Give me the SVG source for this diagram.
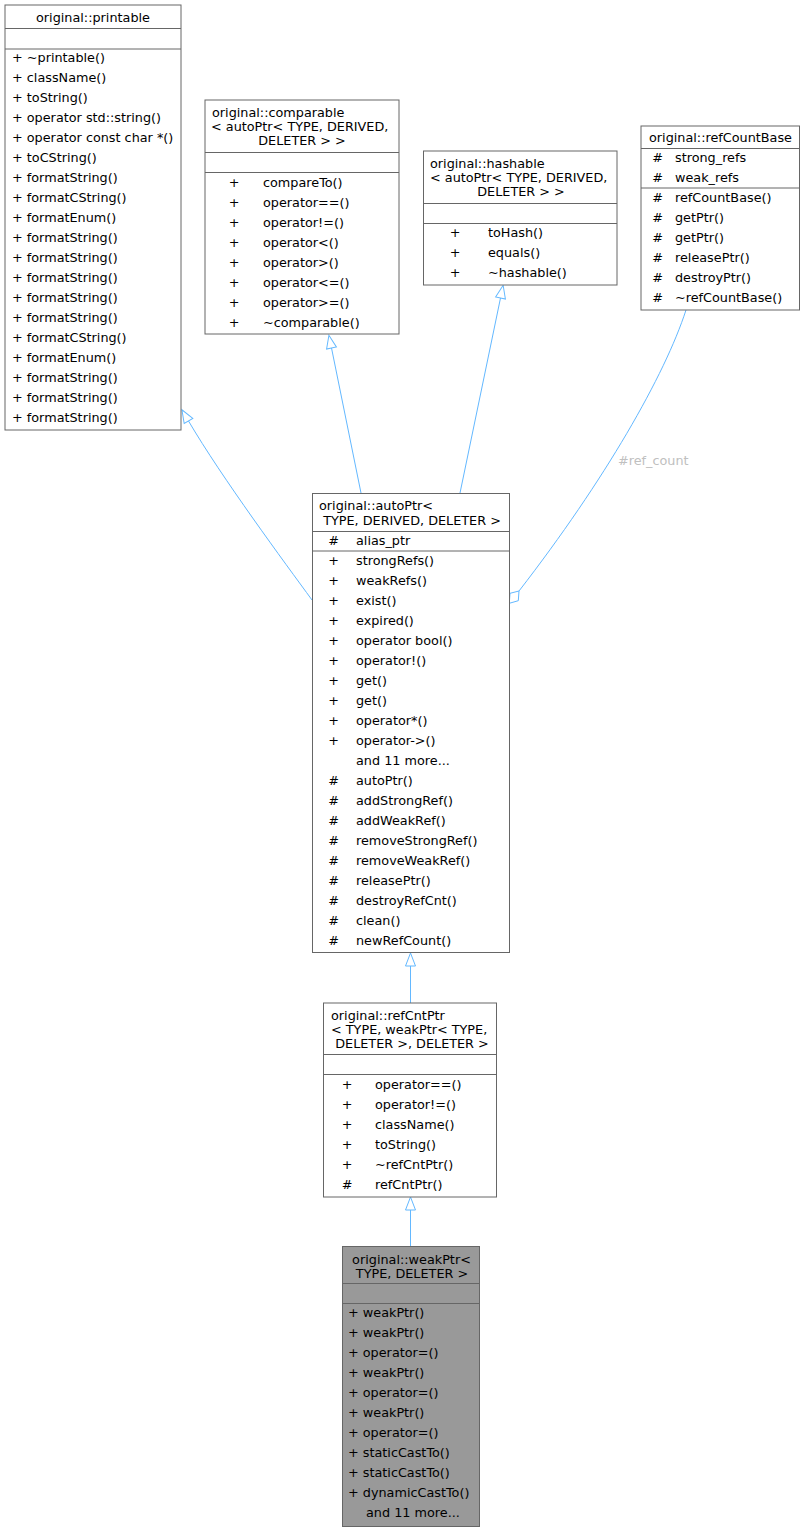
<svg xmlns="http://www.w3.org/2000/svg" width="805" height="1532" viewBox="0 0 805 1532">
<style>
text{font-family:"DejaVu Sans","Liberation Sans",sans-serif;font-size:12.8px;fill:#000}
.box{fill:#fff;stroke:#666;stroke-width:1}
.cur{fill:#999;stroke:#666;stroke-width:1}
.sep{stroke:#666;stroke-width:1}
.c{text-anchor:middle}
.edge{fill:none;stroke:#63b8ff;stroke-width:1}
.lbl{fill:#c0c0c0}
</style>
<defs>
<marker id="inh" markerUnits="userSpaceOnUse" viewBox="-1 -6 15 12" refX="0" refY="0" markerWidth="15" markerHeight="12" orient="auto" overflow="visible">
<path d="M0,-5 L13,0 L0,5 Z" fill="#fff" stroke="#63b8ff" stroke-width="1"/>
</marker>
</defs>
<rect x="0" y="0" width="805" height="1532" fill="#fff"/>

<g id="connectors">
<path class="edge" d="M410.5,1246.5 L410.5,1210" marker-end="url(#inh)"/>
<path class="edge" d="M410.5,1003 L410.5,966" marker-end="url(#inh)"/>
<path class="edge" d="M312,600 C285,563 222,478 188.5,421" marker-end="url(#inh)"/>
<path class="edge" d="M361,493 L331.5,348" marker-end="url(#inh)"/>
<path class="edge" d="M460,493 L500.5,298" marker-end="url(#inh)"/>
<path class="edge" d="M686,310 C665,375 605,480 519,591"/>
<polygon points="509.3,603.3 510,593.3 519,591 518.3,600.7" fill="#fff" stroke="#63b8ff" stroke-width="1"/>
<text class="lbl" x="618" y="465">#ref_count</text>
</g>

<g id="printable">
<rect class="box" x="5" y="5" width="176" height="425"/>
<line class="sep" x1="5" y1="28.5" x2="181" y2="28.5"/>
<line class="sep" x1="5" y1="49" x2="181" y2="49"/>
<text class="c" x="93" y="21.6">original::printable</text>
<g>
<text x="12" y="61.6">+  ~printable()</text>
<text x="12" y="81.6">+  className()</text>
<text x="12" y="101.6">+  toString()</text>
<text x="12" y="121.6">+  operator std::string()</text>
<text x="12" y="141.6">+  operator const char *()</text>
<text x="12" y="161.6">+  toCString()</text>
<text x="12" y="181.6">+  formatString()</text>
<text x="12" y="201.6">+  formatCString()</text>
<text x="12" y="221.6">+  formatEnum()</text>
<text x="12" y="241.6">+  formatString()</text>
<text x="12" y="261.6">+  formatString()</text>
<text x="12" y="281.6">+  formatString()</text>
<text x="12" y="301.6">+  formatString()</text>
<text x="12" y="321.6">+  formatString()</text>
<text x="12" y="341.6">+  formatCString()</text>
<text x="12" y="361.6">+  formatEnum()</text>
<text x="12" y="381.6">+  formatString()</text>
<text x="12" y="401.6">+  formatString()</text>
<text x="12" y="421.6">+  formatString()</text>
</g>
</g>

<g id="comparable">
<rect class="box" x="205" y="100" width="194" height="234"/>
<line class="sep" x1="205" y1="152.5" x2="399" y2="152.5"/>
<line class="sep" x1="205" y1="172.5" x2="399" y2="172.5"/>
<text x="212" y="116.6">original::comparable</text>
<text x="211" y="130.6">&lt; autoPtr&lt; TYPE, DERIVED,</text>
<text class="c" x="302" y="144.6">DELETER &gt; &gt;</text>
<text class="c" x="234" y="186.6">+</text><text x="263" y="186.6">compareTo()</text>
<text class="c" x="234" y="206.6">+</text><text x="263" y="206.6">operator==()</text>
<text class="c" x="234" y="226.6">+</text><text x="263" y="226.6">operator!=()</text>
<text class="c" x="234" y="246.6">+</text><text x="263" y="246.6">operator&lt;()</text>
<text class="c" x="234" y="266.6">+</text><text x="263" y="266.6">operator&gt;()</text>
<text class="c" x="234" y="286.6">+</text><text x="263" y="286.6">operator&lt;=()</text>
<text class="c" x="234" y="306.6">+</text><text x="263" y="306.6">operator&gt;=()</text>
<text class="c" x="234" y="326.6">+</text><text x="263" y="326.6">~comparable()</text>
</g>

<g id="hashable">
<rect class="box" x="423.5" y="151" width="193.5" height="134"/>
<line class="sep" x1="423.5" y1="203.5" x2="617" y2="203.5"/>
<line class="sep" x1="423.5" y1="223.5" x2="617" y2="223.5"/>
<text x="430" y="167.6">original::hashable</text>
<text x="430" y="181.6">&lt; autoPtr&lt; TYPE, DERIVED,</text>
<text class="c" x="521" y="196">DELETER &gt; &gt;</text>
<text class="c" x="455" y="237">+</text><text x="488" y="237">toHash()</text>
<text class="c" x="455" y="257">+</text><text x="488" y="257">equals()</text>
<text class="c" x="455" y="277">+</text><text x="488" y="277">~hashable()</text>
</g>

<g id="refCountBase">
<rect class="box" x="641" y="126" width="158.5" height="184"/>
<line class="sep" x1="641" y1="148.5" x2="799.5" y2="148.5"/>
<line class="sep" x1="641" y1="188" x2="799.5" y2="188"/>
<text class="c" x="720.5" y="142">original::refCountBase</text>
<text class="c" x="657.5" y="162">#</text><text x="675" y="162">strong_refs</text>
<text class="c" x="657.5" y="182">#</text><text x="675" y="182">weak_refs</text>
<text class="c" x="657.5" y="201.6">#</text><text x="675" y="201.6">refCountBase()</text>
<text class="c" x="657.5" y="221.6">#</text><text x="675" y="221.6">getPtr()</text>
<text class="c" x="657.5" y="241.6">#</text><text x="675" y="241.6">getPtr()</text>
<text class="c" x="657.5" y="261.6">#</text><text x="675" y="261.6">releasePtr()</text>
<text class="c" x="657.5" y="281.6">#</text><text x="675" y="281.6">destroyPtr()</text>
<text class="c" x="657.5" y="301.6">#</text><text x="675" y="301.6">~refCountBase()</text>
</g>

<g id="autoPtr">
<rect class="box" x="312.5" y="493.5" width="197" height="459"/>
<line class="sep" x1="312.5" y1="531.5" x2="509.5" y2="531.5"/>
<line class="sep" x1="312.5" y1="551" x2="509.5" y2="551"/>
<text x="319" y="510">original::autoPtr&lt;</text>
<text class="c" x="412" y="524.6"> TYPE, DERIVED, DELETER &gt;</text>
<text class="c" x="333.5" y="545">#</text><text x="356" y="545">alias_ptr</text>
<text class="c" x="333.5" y="564.6">+</text><text x="356" y="564.6">strongRefs()</text>
<text class="c" x="333.5" y="584.6">+</text><text x="356" y="584.6">weakRefs()</text>
<text class="c" x="333.5" y="604.6">+</text><text x="356" y="604.6">exist()</text>
<text class="c" x="333.5" y="624.6">+</text><text x="356" y="624.6">expired()</text>
<text class="c" x="333.5" y="644.6">+</text><text x="356" y="644.6">operator bool()</text>
<text class="c" x="333.5" y="664.6">+</text><text x="356" y="664.6">operator!()</text>
<text class="c" x="333.5" y="684.6">+</text><text x="356" y="684.6">get()</text>
<text class="c" x="333.5" y="704.6">+</text><text x="356" y="704.6">get()</text>
<text class="c" x="333.5" y="724.6">+</text><text x="356" y="724.6">operator*()</text>
<text class="c" x="333.5" y="744.6">+</text><text x="356" y="744.6">operator-&gt;()</text>
<text x="356" y="764.6">and 11 more...</text>
<text class="c" x="333.5" y="784.6">#</text><text x="356" y="784.6">autoPtr()</text>
<text class="c" x="333.5" y="804.6">#</text><text x="356" y="804.6">addStrongRef()</text>
<text class="c" x="333.5" y="824.6">#</text><text x="356" y="824.6">addWeakRef()</text>
<text class="c" x="333.5" y="844.6">#</text><text x="356" y="844.6">removeStrongRef()</text>
<text class="c" x="333.5" y="864.6">#</text><text x="356" y="864.6">removeWeakRef()</text>
<text class="c" x="333.5" y="884.6">#</text><text x="356" y="884.6">releasePtr()</text>
<text class="c" x="333.5" y="904.6">#</text><text x="356" y="904.6">destroyRefCnt()</text>
<text class="c" x="333.5" y="924.6">#</text><text x="356" y="924.6">clean()</text>
<text class="c" x="333.5" y="944.6">#</text><text x="356" y="944.6">newRefCount()</text>
</g>

<g id="refCntPtr">
<rect class="box" x="323.5" y="1003" width="173" height="194"/>
<line class="sep" x1="323.5" y1="1054.5" x2="496.5" y2="1054.5"/>
<line class="sep" x1="323.5" y1="1074.5" x2="496.5" y2="1074.5"/>
<text x="331" y="1019.6">original::refCntPtr</text>
<text x="331" y="1033.6">&lt; TYPE, weakPtr&lt; TYPE,</text>
<text class="c" x="412" y="1048">DELETER &gt;, DELETER &gt;</text>
<text class="c" x="347" y="1088.6">+</text><text x="375" y="1088.6">operator==()</text>
<text class="c" x="347" y="1108.6">+</text><text x="375" y="1108.6">operator!=()</text>
<text class="c" x="347" y="1128.6">+</text><text x="375" y="1128.6">className()</text>
<text class="c" x="347" y="1148.6">+</text><text x="375" y="1148.6">toString()</text>
<text class="c" x="347" y="1168.6">+</text><text x="375" y="1168.6">~refCntPtr()</text>
<text class="c" x="347" y="1188.6">#</text><text x="375" y="1188.6">refCntPtr()</text>
</g>

<g id="weakPtr">
<rect class="cur" x="342.5" y="1246.5" width="137" height="280"/>
<line class="sep" x1="342.5" y1="1283.5" x2="479.5" y2="1283.5"/>
<line class="sep" x1="342.5" y1="1303.5" x2="479.5" y2="1303.5"/>
<text class="c" x="411.5" y="1264">original::weakPtr&lt;</text>
<text class="c" x="412" y="1278"> TYPE, DELETER &gt;</text>
<text x="348" y="1317">+  weakPtr()</text>
<text x="348" y="1337">+  weakPtr()</text>
<text x="348" y="1357">+  operator=()</text>
<text x="348" y="1377">+  weakPtr()</text>
<text x="348" y="1397">+  operator=()</text>
<text x="348" y="1417">+  weakPtr()</text>
<text x="348" y="1437">+  operator=()</text>
<text x="348" y="1457">+  staticCastTo()</text>
<text x="348" y="1477">+  staticCastTo()</text>
<text x="348" y="1497">+  dynamicCastTo()</text>
<text x="366" y="1517">and 11 more...</text>
</g>
</svg>
